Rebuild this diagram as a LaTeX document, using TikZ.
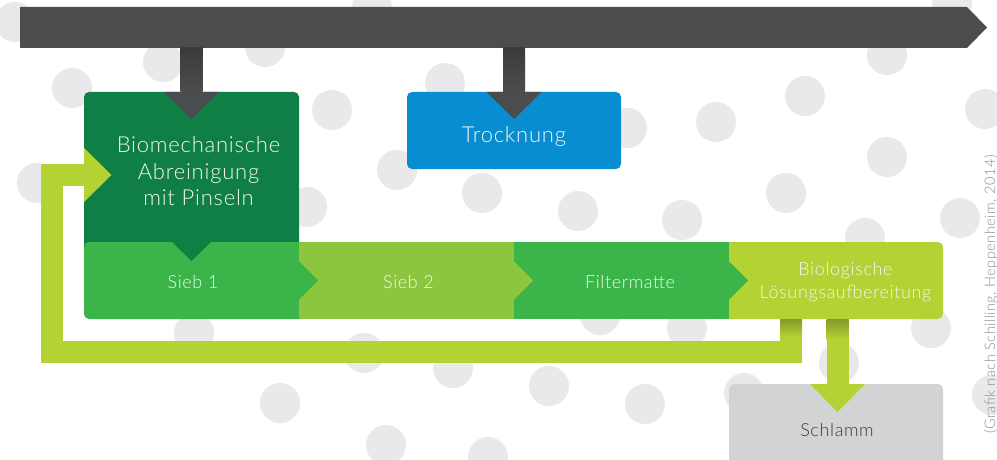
\documentclass[tikz,border=0pt]{standalone}
\usepackage{fontspec}
\IfFontExistsTF{Lato Light}{\setmainfont{Lato Light}[LetterSpace=3.5]}{\setmainfont{Liberation Sans}}
\usetikzlibrary{calc}

\definecolor{barGray}{HTML}{4B4C4E}
\definecolor{barShade}{HTML}{3A3B3D}
\definecolor{dotGray}{HTML}{E9E9EB}
\definecolor{deepGreen}{HTML}{107F46}
\definecolor{midGreen}{HTML}{3BB54A}
\definecolor{leafGreen}{HTML}{8CC63F}
\definecolor{limeGreen}{HTML}{B3D334}
\definecolor{oliveShade}{HTML}{859A2A}
\definecolor{skyBlue}{HTML}{078DD0}
\definecolor{sludgeGray}{HTML}{D1D3D4}
\definecolor{sludgeText}{HTML}{3A3A3C}
\definecolor{paleText}{HTML}{F1F6F0}
\definecolor{creditGray}{HTML}{8E8E90}

\tikzset{
  area/.style={inner sep=0pt, outer sep=0pt},
  dot/.style={fill=dotGray},
  boxtext/.style={text=paleText, font=\fontsize{22}{26.5}\selectfont, align=center},
  bandtext/.style={text=paleText, font=\fontsize{18}{23}\selectfont, align=center},
  returnflow/.style={draw=limeGreen, line width=22pt, line join=miter},
}

\begin{document}
\begin{tikzpicture}[x=1pt,y=-1pt]
\fill[white] (0,0) rectangle (997,460);
\useasboundingbox (0,0) rectangle (997,460);

% background dots
\foreach \x/\y in {15/22, 372/8, 952/3, 163/62, 265/47, 72/88, 332/110, 445/83,
  37/183, 307/207, 397/170, 482/193, 578/211, 627/128, 716/122, 805/96, 887/55,
  985/109, 887/157, 786/193, 682/220, 960/218, 865/238, 194/333, 364/353,
  453/368, 280/403, 549/386, 645/404, 744/393, 839/363, 931/328, 992/395,
  386/445, 488/457, 600/315, 687/328}
  \fill[dot] (\x,\y) circle[radius=20pt];

% layout of the boxes
\node[area, minimum width=947pt, minimum height=41pt] (bar) at (493.5,27.5) {};
\node[area, minimum width=215pt, minimum height=150pt] (mech) at (191.5,167) {};
\node[area, minimum width=214pt, minimum height=77pt] (dry) at (514,130.5) {};
\node[area, minimum width=215pt, minimum height=77pt] (sieve1) at (191.5,280.5) {};
\node[area, minimum width=215pt, minimum height=77pt] (sieve2) at (406.5,280.5) {};
\node[area, minimum width=215pt, minimum height=77pt] (filter) at (621.5,280.5) {};
\node[area, minimum width=214pt, minimum height=77pt] (bioTreat) at (836,280.5) {};
\node[area, minimum width=214pt, minimum height=86pt] (sludge) at (836,427) {};

% top process arrow
\fill[barGray] (bar.north west) -- (bar.north east) -- ($(bar.east)+(20,0)$)
  -- (bar.south east) -- (bar.south west) -- cycle;

% stems from the process arrow down to the boxes
\shade[top color=barShade, bottom color=barGray]
  ($(mech.north |- bar.south)+(-11,0)$) rectangle ($(mech.north)+(11,0)$);
\shade[top color=barShade, bottom color=barGray]
  ($(dry.north |- bar.south)+(-11,0)$) rectangle ($(dry.north)+(11,0)$);

% boxes
\fill[deepGreen, rounded corners=5pt] (mech.north west) rectangle ($(mech.south east)+(0,10)$);
\fill[skyBlue, rounded corners=5pt] (dry.north west) rectangle (dry.south east);

% treatment band
\fill[midGreen, rounded corners=5pt] (sieve1.north west) rectangle ($(sieve1.south east)+(10,0)$);
\fill[limeGreen, rounded corners=5pt] ($(bioTreat.north west)+(-10,0)$) rectangle (bioTreat.south east);
\fill[leafGreen] (sieve2.north west) rectangle (sieve2.south east);
\fill[midGreen] (filter.north west) rectangle (filter.south east);

% chevrons between the stages
\fill[midGreen] ($(sieve1.east)+(0,-19)$) -- ($(sieve1.east)+(19,0)$) -- ($(sieve1.east)+(0,19)$) -- cycle;
\fill[leafGreen] ($(sieve2.east)+(0,-19)$) -- ($(sieve2.east)+(19,0)$) -- ($(sieve2.east)+(0,19)$) -- cycle;
\fill[midGreen] ($(filter.east)+(0,-19)$) -- ($(filter.east)+(19,0)$) -- ($(filter.east)+(0,19)$) -- cycle;
\fill[deepGreen] ($(mech.south)+(-19.5,0)$) -- ($(mech.south)+(19.5,0)$) -- ($(mech.south)+(0,19)$) -- cycle;

% arrow heads of the process arrow
\fill[barGray] ($(mech.north)+(-27.5,0)$) -- ($(mech.north)+(27.5,0)$) -- ($(mech.north)+(0,27)$) -- cycle;
\fill[barGray] ($(dry.north)+(-27.5,0)$) -- ($(dry.north)+(27.5,0)$) -- ($(dry.north)+(0,27)$) -- cycle;

% return of the treated solution
\coordinate (loopCorner) at (52,352);
\draw[returnflow] ($(bioTreat.south)+(-45,0)$) |- (loopCorner) |- ($(mech.west)+(0,8)$);
\shade[top color=oliveShade, bottom color=limeGreen]
  ($(bioTreat.south)+(-56,0)$) rectangle ($(bioTreat.south)+(-34,18)$);
\fill[limeGreen] ($(mech.west)+(0,-19)$) -- ($(mech.west)+(27.5,8)$) -- ($(mech.west)+(0,35)$) -- cycle;

% sludge
\fill[sludgeGray, rounded corners=5pt] (sludge.north west) rectangle (sludge.south east);
\draw[limeGreen, line width=22pt] ($(bioTreat.south)+(1.5,0)$) -- ($(sludge.north)+(1.5,0)$);
\shade[top color=oliveShade, bottom color=limeGreen]
  ($(bioTreat.south)+(-9.5,0)$) rectangle ($(bioTreat.south)+(12.5,20)$);
\fill[limeGreen] ($(sludge.north)+(-26,0)$) -- ($(sludge.north)+(29,0)$) -- ($(sludge.north)+(1.5,28)$) -- cycle;

% labels
\node[boxtext] (mechText) at (198.5,171.5) {Biomechanische\\Abreinigung\\mit Pinseln};
\node[boxtext, anchor=base] (dryText) at (514,142.5) {Trocknung};
\node[bandtext, anchor=base] (s1Text) at (193,288) {Sieb 1};
\node[bandtext, anchor=base] (s2Text) at (408.5,288) {Sieb 2};
\node[bandtext, anchor=base] (filterText) at (630,288) {Filtermatte};
\node[bandtext] (bioText) at (845.5,282) {Biologische\\Lösungsaufbereitung};
\node[anchor=base, text=sludgeText, font=\fontsize{18}{20}\selectfont] (sludgeText) at (837,436.5) {Schlamm};
\node[rotate=90, anchor=base east, inner sep=0pt, text=creditGray, font=\fontsize{14.5}{16}\selectfont]
  (credit) at (995,155) {(Grafik nach Schilling, Heppenheim, 2014)};
\end{tikzpicture}
\end{document}
